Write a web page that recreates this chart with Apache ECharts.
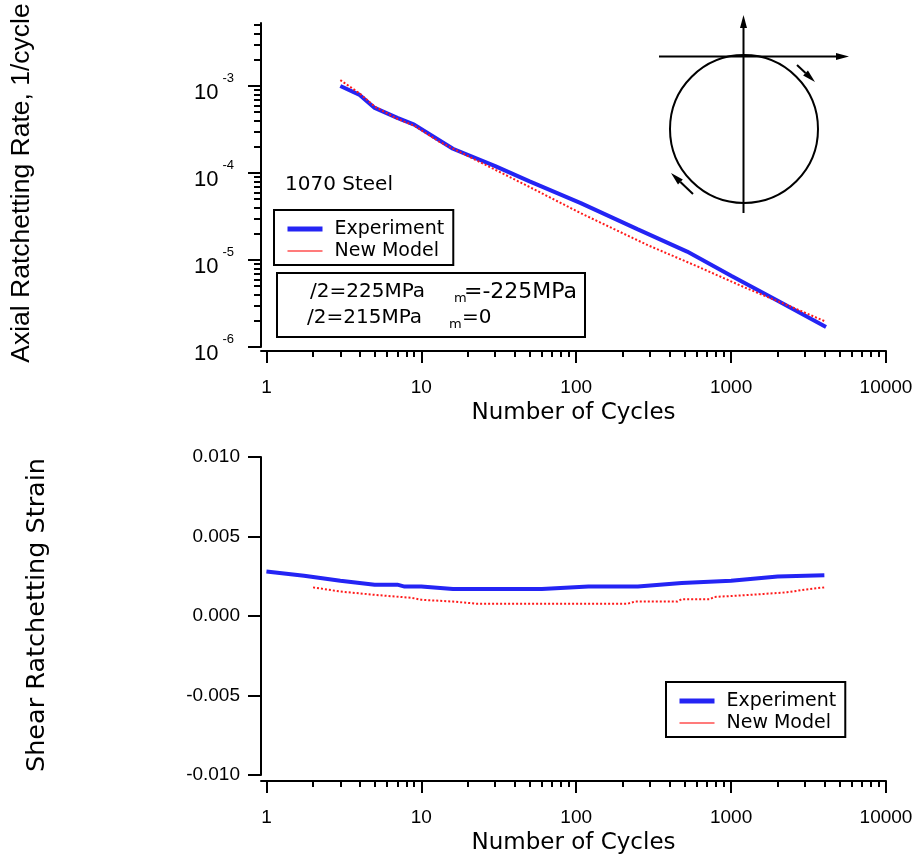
<!DOCTYPE html>
<html>
<head>
<meta charset="utf-8">
<script src="https://cdn.jsdelivr.net/npm/echarts@6/dist/echarts.min.js"></script>
<style>
html, body { margin: 0; padding: 0; background: #fff; }
#main { width: 924px; height: 861px; }
</style>
</head>
<body>
<div id="main"></div>
<script>
// top chart: axial ratchetting rate (1/cycle) vs cycles
var expCycles = [3, 4, 5, 7, 9, 16, 30, 50, 107, 250, 520, 1000, 2000, 4100];
var expRate = [1.0e-3, 7.9e-4, 5.6e-4, 4.3e-4, 3.6e-4, 1.9e-4, 1.2e-4, 8.0e-5, 4.5e-5, 2.25e-5, 1.25e-5, 6.6e-6, 3.4e-6, 1.7e-6];
var modCycles = [3, 4, 5, 7, 9, 13, 30, 50, 107, 290, 600, 1270, 2500, 4100];
var modRate = [1.17e-3, 8.2e-4, 5.8e-4, 4.2e-4, 3.5e-4, 2.3e-4, 1.09e-4, 6.9e-5, 3.45e-5, 1.48e-5, 8.5e-6, 4.7e-6, 2.85e-6, 1.95e-6];

// bottom chart: shear ratchetting strain vs cycles
var expCycles2 = [1, 1.75, 3, 5, 7, 7.8, 10, 16, 60, 120, 250, 480, 1000, 2000, 4000];
var expShear = [0.0028, 0.00253, 0.00222, 0.00197, 0.00197, 0.00185, 0.00185, 0.0017, 0.0017, 0.00185, 0.00185, 0.00207, 0.00222, 0.00249, 0.00257];
var modCycles2 = [2, 3, 5, 8.7, 10, 16, 23, 215, 240, 450, 480, 730, 780, 1150, 1630, 2300, 3000, 4000];
var modShear = [0.0018, 0.00154, 0.00133, 0.00114, 0.00102, 0.00091, 0.00077, 0.00077, 0.00091, 0.00091, 0.00106, 0.00106, 0.0012, 0.00129, 0.00139, 0.00149, 0.00166, 0.0018];

// tick labels
var xTickLabels = ['1', '10', '100', '1000', '10000'];
var rateTickExp = ['-6', '-5', '-4', '-3'];
var shearTicks = [-0.010, -0.005, 0, 0.005, 0.010];

var black = '#000';
var font = 'DejaVu Sans';
var tickFont = 'Liberation Sans';
var blue = '#2424f4';
var red = '#ff1a1a';

// log10 positions of the ticks
var xMajor = xTickLabels.map(function (s) { return Math.log10(+s); });
var xMinor = [];
for (var d = 0; d < 4; d++) {
    for (var k = 2; k <= 9; k++) xMinor.push(d + Math.log10(k));
}
var yMajor = rateTickExp.map(function (s) { return +s; });
var yMax = -2.276;
var yMinor = [];
for (var d2 = -6; d2 <= -3; d2++) {
    for (var k2 = 2; k2 <= 9; k2++) {
        var v = d2 + Math.log10(k2);
        if (v < yMax) yMinor.push(v);
    }
}

function logPts(xs, ys, logY) {
    return xs.map(function (x, i) {
        return [Math.log10(x), logY ? Math.log10(ys[i]) : ys[i]];
    });
}

function xAxisMajor(grid, offset) {
    return {
        type: 'value', gridIndex: grid, min: -0.035, max: 4, position: 'bottom', offset: offset,
        axisLine: { onZero: false, lineStyle: { color: black, width: 2 } },
        axisTick: { customValues: xMajor, length: 12, lineStyle: { color: black, width: 2 } },
        axisLabel: {
            customValues: xMajor, margin: 27, color: black, fontFamily: tickFont, fontSize: 19,
            formatter: function (v) { return xTickLabels[Math.round(v)]; }
        },
        splitLine: { show: false },
        name: 'Number of Cycles', nameLocation: 'middle', nameGap: 51,
        nameTextStyle: { color: black, fontFamily: font, fontSize: 23 }
    };
}
function xAxisMinor(grid, offset) {
    return {
        type: 'value', gridIndex: grid, min: -0.035, max: 4, position: 'bottom', offset: offset,
        axisLine: { show: false, onZero: false },
        axisTick: { customValues: xMinor, length: 6, lineStyle: { color: black, width: 2 } },
        axisLabel: { show: false },
        splitLine: { show: false }
    };
}

var legendBase = {
    orient: 'vertical', itemWidth: 35, itemHeight: 14, itemGap: 0,
    padding: [8, 9, 3, 11], borderColor: black, borderWidth: 2,
    itemStyle: { opacity: 0 },
    textStyle: { color: black, fontFamily: font, fontSize: 19, lineHeight: 22, padding: [0, 0, 0, 7] },
    data: [
        { name: 'Experiment', lineStyle: { color: blue, width: 5, type: 'solid' } },
        { name: 'New Model', lineStyle: { color: '#ff7b7b', width: 2, type: 'solid' } }
    ]
};

function arrow(x1, y1, x2, y2) {
    var dx = x2 - x1, dy = y2 - y1;
    var len = Math.sqrt(dx * dx + dy * dy);
    var ux = dx / len, uy = dy / len;
    var bx = x2 - 13 * ux, by = y2 - 13 * uy;
    return [
        { type: 'line', shape: { x1: x1, y1: y1, x2: bx, y2: by }, style: { stroke: black, lineWidth: 2 } },
        {
            type: 'polygon',
            shape: { points: [[x2, y2], [bx - 3.5 * uy, by + 3.5 * ux], [bx + 3.5 * uy, by - 3.5 * ux]] },
            style: { fill: black }
        }
    ];
}

function txt(x, y, s, size, extra) {
    var st = { text: s, x: 0, y: 0, fill: black, fontFamily: font, fontSize: size, verticalAlign: 'middle' };
    for (var key in extra) st[key] = extra[key];
    return { type: 'text', x: x, y: y, style: st };
}

var graphics = [];
// the loading path sketch
graphics.push({ type: 'circle', shape: { cx: 744, cy: 129, r: 74 }, style: { fill: 'none', stroke: black, lineWidth: 2 } });
graphics = graphics.concat(arrow(743.5, 213, 743.5, 15));
graphics = graphics.concat(arrow(659, 56.5, 849, 56.5));
graphics = graphics.concat(arrow(797, 65, 815, 82));
graphics = graphics.concat(arrow(693, 194, 671, 173));
// notes
graphics.push(txt(285, 185, '1070 Steel', 20));
graphics.push({ type: 'rect', shape: { x: 277, y: 273, width: 308, height: 64 }, style: { fill: 'none', stroke: black, lineWidth: 2 } });
graphics.push(txt(310, 292, '/2=225MPa', 20));
graphics.push(txt(454, 299, 'm', 13));
graphics.push(txt(464, 292, '=-225MPa', 22));
graphics.push(txt(307, 318, '/2=215MPa', 20));
graphics.push(txt(449, 325, 'm', 13));
graphics.push(txt(462, 318, '=0', 20));
// axis titles
graphics.push(txt(22, 183, 'Axial Ratchetting Rate, 1/cycle', 26.5, { fontFamily: 'Liberation Sans', align: 'center' }));
graphics[graphics.length - 1].rotation = Math.PI / 2;
graphics.push(txt(37, 615, 'Shear Ratchetting Strain', 25.5, { align: 'center' }));
graphics[graphics.length - 1].rotation = Math.PI / 2;

var chart = echarts.init(document.getElementById('main'));
var option = {
    animation: false,
    backgroundColor: '#fff',
    grid: [
        { left: 261, right: 38, top: 23, height: 324 },
        { left: 261, right: 38, top: 457, height: 318 }
    ],
    xAxis: [xAxisMajor(0, 4), xAxisMinor(0, 4), xAxisMajor(1, 6), xAxisMinor(1, 6)],
    yAxis: [
        {
            type: 'value', gridIndex: 0, min: -6, max: yMax, position: 'left',
            axisLine: { onZero: false, lineStyle: { color: black, width: 2 } },
            axisTick: { customValues: yMajor, length: 13, lineStyle: { color: black, width: 2 } },
            axisLabel: {
                customValues: yMajor, margin: 27, color: black,
                formatter: function (v) { return '{b|10}{s|' + Math.round(v) + '}'; },
                rich: {
                    b: { fontFamily: tickFont, fontSize: 22, color: black, padding: [13, 0, 0, 0] },
                    s: { fontFamily: tickFont, fontSize: 13, color: black, padding: [0, 0, 15, 4] }
                }
            },
            splitLine: { show: false }
        },
        {
            type: 'value', gridIndex: 0, min: -6, max: yMax, position: 'left',
            axisLine: { show: false, onZero: false },
            axisTick: { customValues: yMinor, length: 7, lineStyle: { color: black, width: 2 } },
            axisLabel: { show: false },
            splitLine: { show: false }
        },
        {
            type: 'value', gridIndex: 1, min: -0.010, max: 0.010, position: 'left',
            axisLine: { onZero: false, lineStyle: { color: black, width: 2 } },
            axisTick: { customValues: shearTicks, length: 13, lineStyle: { color: black, width: 2 } },
            axisLabel: {
                customValues: shearTicks, margin: 21, color: black, fontFamily: tickFont, fontSize: 19,
                formatter: function (v) { return v.toFixed(3); }
            },
            splitLine: { show: false }
        }
    ],
    legend: [
        Object.assign({}, legendBase, { left: 274, top: 210 }),
        Object.assign({}, legendBase, { left: 666, top: 682 })
    ],
    graphic: graphics,
    series: [
        {
            name: 'Experiment', type: 'line', xAxisIndex: 0, yAxisIndex: 0, symbol: 'none',
            lineStyle: { color: blue, width: 4 }, itemStyle: { color: blue },
            data: logPts(expCycles, expRate, true), z: 2
        },
        {
            name: 'New Model', type: 'line', xAxisIndex: 0, yAxisIndex: 0, symbol: 'none',
            lineStyle: { color: red, width: 2, type: [2, 2] }, itemStyle: { color: red },
            data: logPts(modCycles, modRate, true), z: 3
        },
        {
            name: 'Experiment', type: 'line', xAxisIndex: 2, yAxisIndex: 2, symbol: 'none',
            lineStyle: { color: blue, width: 4 }, itemStyle: { color: blue },
            data: logPts(expCycles2, expShear, false), z: 2
        },
        {
            name: 'New Model', type: 'line', xAxisIndex: 2, yAxisIndex: 2, symbol: 'none',
            lineStyle: { color: red, width: 2, type: [2, 2] }, itemStyle: { color: red },
            data: logPts(modCycles2, modShear, false), z: 3
        }
    ]
};
chart.setOption(option);
</script>
</body>
</html>
